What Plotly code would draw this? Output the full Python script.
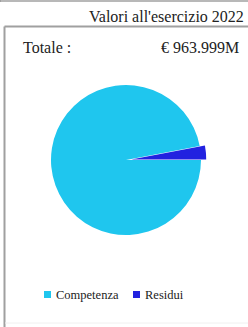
import plotly.graph_objects as go

W, H = 248, 327
labels = ["Competenza", "Residui"]
values = [935.0, 29.0]
colors = ["#1fc6ee", "#2222e0"]
pulls = [0, 0.07]
title_text = "Valori all'esercizio 2022"
total_label = "Totale :"
total_value = "€ 963.999M"

def px_x(x):
    return x / W

def px_y(y):
    return 1 - y / H

r_dom = 75 * (1 + max(pulls))
cx, cy = 126, 160
fig = go.Figure(go.Pie(
    labels=labels, values=values, sort=False,
    direction="clockwise", rotation=90,
    marker=dict(colors=colors, line=dict(width=0)),
    pull=pulls, textinfo="none", hoverinfo="label+value",
    domain=dict(x=[px_x(cx - r_dom), px_x(cx + r_dom)], y=[px_y(cy + r_dom), px_y(cy - r_dom)]),
    showlegend=False,
))

font = "Liberation Serif, Times New Roman, serif"
shapes = [
    dict(type="line", xref="paper", yref="paper", x0=0, x1=1, y0=px_y(1), y1=px_y(1),
         line=dict(color="#a0a0a0", width=1.5)),
    dict(type="line", xref="paper", yref="paper", x0=px_x(0.5), x1=px_x(0.5), y0=px_y(0), y1=px_y(2),
         line=dict(color="#a0a0a0", width=1)),
    dict(type="line", xref="paper", yref="paper", x0=px_x(4.5), x1=1, y0=px_y(26.5), y1=px_y(26.5),
         line=dict(color="#a0a0a0", width=2)),
    dict(type="line", xref="paper", yref="paper", x0=px_x(4.5), x1=px_x(4.5), y0=0, y1=px_y(26.5),
         line=dict(color="#a0a0a0", width=2)),
    dict(type="line", xref="paper", yref="paper", x0=px_x(5), x1=1, y0=px_y(323), y1=px_y(323),
         line=dict(color="#f0f0f0", width=1)),
]
annotations = [
    dict(text=title_text, xref="paper", yref="paper", x=px_x(246), y=px_y(17),
         xanchor="right", yanchor="middle", showarrow=False,
         font=dict(family=font, size=16, color="#222")),
    dict(text=total_label, xref="paper", yref="paper", x=px_x(21), y=px_y(47),
         xanchor="left", yanchor="middle", showarrow=False,
         font=dict(family=font, size=16, color="#222")),
    dict(text=total_value, xref="paper", yref="paper", x=px_x(241), y=px_y(47),
         xanchor="right", yanchor="middle", showarrow=False,
         font=dict(family=font, size=16, color="#222")),
]
# manual legend built from the labels/colors lists
leg_x = [44, 133]
for lx, lab, col in zip(leg_x, labels, colors):
    shapes.append(dict(type="rect", xref="paper", yref="paper",
                       x0=px_x(lx), x1=px_x(lx + 7), y0=px_y(298), y1=px_y(291),
                       fillcolor=col, line=dict(width=0)))
    annotations.append(dict(text=lab, xref="paper", yref="paper", x=px_x(lx + 10), y=px_y(295),
                            xanchor="left", yanchor="middle", showarrow=False,
                            font=dict(family=font, size=12.5, color="#222")))

fig.update_layout(
    width=W, height=H, margin=dict(l=0, r=0, t=0, b=0),
    paper_bgcolor="white", plot_bgcolor="white",
    font=dict(family=font, color="#222"),
    shapes=shapes, annotations=annotations,
)
fig.write_html("out.html", config={"displayModeBar": False},
               post_script="document.body.style.margin='0';")
